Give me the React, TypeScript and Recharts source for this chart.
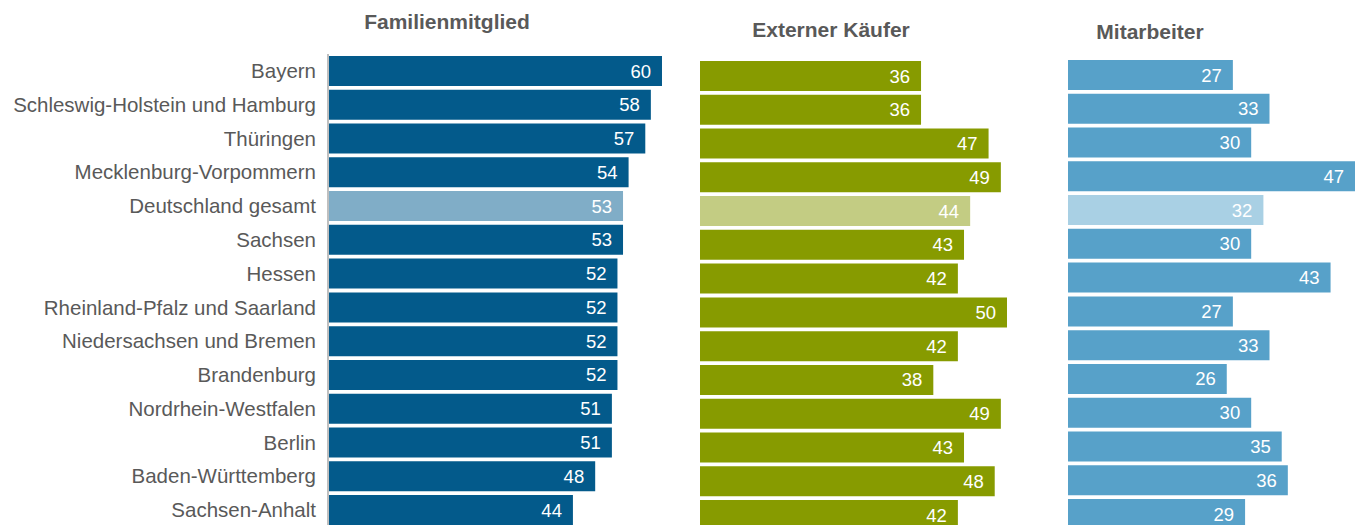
import { BarChart, Bar, XAxis, YAxis, Cell, LabelList } from 'recharts';

const regions = [
  'Bayern',
  'Schleswig-Holstein und Hamburg',
  'Thüringen',
  'Mecklenburg-Vorpommern',
  'Deutschland gesamt',
  'Sachsen',
  'Hessen',
  'Rheinland-Pfalz und Saarland',
  'Niedersachsen und Bremen',
  'Brandenburg',
  'Nordrhein-Westfalen',
  'Berlin',
  'Baden-Württemberg',
  'Sachsen-Anhalt',
];

const familie = [60, 58, 57, 54, 53, 53, 52, 52, 52, 52, 51, 51, 48, 44];
const extern = [36, 36, 47, 49, 44, 43, 42, 50, 42, 38, 49, 43, 48, 42];
const mitarbeiter = [27, 33, 30, 47, 32, 30, 43, 27, 33, 26, 30, 35, 36, 29];

const highlight = 'Deutschland gesamt';

const FONT = '"Liberation Sans", Arial, sans-serif';
const ROW = 33.77;
const ROWS = regions.length;

interface PanelProps {
  title: string;
  values: number[];
  color: string;
  light: string;
  left: number;
  top: number;
  plotWidth: number;
  max: number;
  axisWidth: number;
  titleX: number;
  titleY: number;
}

function Panel({ title, values, color, light, left, top, plotWidth, max, axisWidth, titleX, titleY }: PanelProps) {
  const data = regions.map((name, i) => ({ name, value: values[i] }));
  const height = top + ROWS * ROW + 30;
  const width = axisWidth + plotWidth;
  return (
    <>
      <div
        style={{
          position: 'absolute',
          left: titleX - 150,
          top: titleY - 12,
          width: 300,
          lineHeight: '24px',
          textAlign: 'center',
          fontFamily: FONT,
          fontWeight: 'bold',
          fontSize: 21,
          color: '#595959',
        }}
      >
        {title}
      </div>
      <div style={{ position: 'absolute', left, top: 0 }}>
        <BarChart
          width={width}
          height={height}
          data={data}
          layout="vertical"
          margin={{ top, right: 0, bottom: 30, left: 0 }}
        >
          <XAxis type="number" domain={[0, max]} hide />
          <YAxis
            type="category"
            dataKey="name"
            width={axisWidth}
            hide={axisWidth === 0}
            tickLine={false}
            axisLine={{ stroke: '#bfbfbf', strokeWidth: 2 }}
            tickMargin={6}
            interval={0}
            tick={{ fill: '#595959', fontSize: 20.5, fontFamily: FONT }}
          />
          <Bar dataKey="value" barSize={30} isAnimationActive={false}>
            {data.map((d) => (
              <Cell key={d.name} fill={d.name === highlight ? light : color} />
            ))}
            <LabelList
              dataKey="value"
              position="insideRight"
              offset={11}
              fill="#ffffff"
              style={{ fontSize: 18.5, fontFamily: FONT }}
            />
          </Bar>
        </BarChart>
      </div>
    </>
  );
}

export default function App() {
  return (
    <div style={{ position: 'absolute', left: 0, top: 0, width: 1358, height: 525, overflow: 'hidden', background: '#fff' }}>
      <Panel
        title="Familienmitglied"
        values={familie}
        color="#035a8b"
        light="#80adc7"
        left={0}
        top={54}
        axisWidth={328}
        plotWidth={334}
        max={60}
        titleX={447}
        titleY={22}
      />
      <Panel
        title="Externer Käufer"
        values={extern}
        color="#879b00"
        light="#c3cc83"
        left={700}
        top={59}
        axisWidth={0}
        plotWidth={307}
        max={50}
        titleX={831}
        titleY={30}
      />
      <Panel
        title="Mitarbeiter"
        values={mitarbeiter}
        color="#57a1c9"
        light="#a9d0e4"
        left={1068}
        top={58}
        axisWidth={0}
        plotWidth={287}
        max={47}
        titleX={1150}
        titleY={32}
      />
    </div>
  );
}
